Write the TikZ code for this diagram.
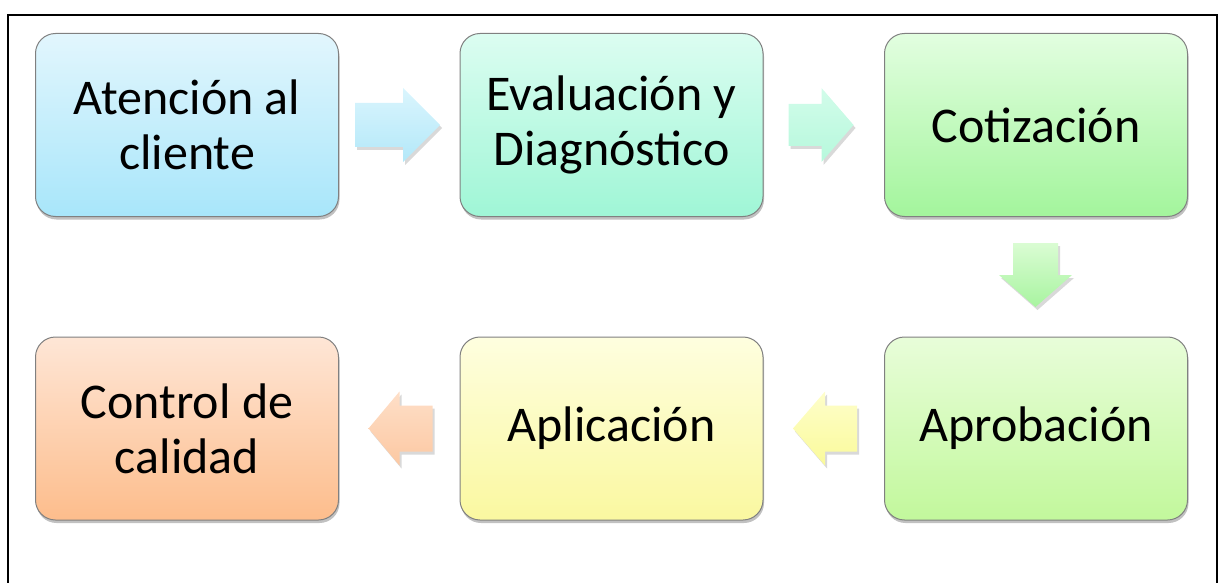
\documentclass[tikz,border=0pt]{standalone}
\usepackage{fontspec}
\setmainfont{Carlito}
\usetikzlibrary{shadows,calc}
\definecolor{bordergray}{HTML}{808080}
\definecolor{bAt}{HTML}{E2F6FD}\definecolor{bAb}{HTML}{A8E6FA}
\definecolor{bBt}{HTML}{DCFDF1}\definecolor{bBb}{HTML}{9FF6D6}
\definecolor{bCt}{HTML}{E2FEE0}\definecolor{bCb}{HTML}{A3F59C}
\definecolor{bDt}{HTML}{E8FDD9}\definecolor{bDb}{HTML}{C2F89C}
\definecolor{bEt}{HTML}{FEFEDF}\definecolor{bEb}{HTML}{FAF8A0}
\definecolor{bFt}{HTML}{FEE6D6}\definecolor{bFb}{HTML}{FDBD8C}
\definecolor{aAt}{HTML}{DAF5FD}\definecolor{aAb}{HTML}{B3E8F9}
\definecolor{aBt}{HTML}{D2FCEA}\definecolor{aBb}{HTML}{B6F8DC}
\definecolor{aCt}{HTML}{DAFCD3}\definecolor{aCb}{HTML}{A8F4A0}
\definecolor{aDt}{HTML}{FEFECB}\definecolor{aDb}{HTML}{FAFA9A}
\definecolor{aEt}{HTML}{FEDFC8}\definecolor{aEb}{HTML}{FCC8A2}
\tikzset{
  x=1pt, y=-1pt,
  stepbox/.style={draw=bordergray, line width=1pt, rounded corners=20pt,
    minimum width=303pt, minimum height=183pt, align=center,
    font=\fontsize{50}{55}\selectfont, text=black,
    drop shadow={shadow xshift=1pt, shadow yshift=-3pt, opacity=0.35, fill=black!70}},
  blockarrow/.style={draw=none,
    drop shadow={shadow xshift=2pt, shadow yshift=-3pt, opacity=0.25, fill=black!60}},
}
\begin{document}
\begin{tikzpicture}
\useasboundingbox (0,0) rectangle (1224,583);
\draw[line width=2pt, black] (8,600) -- (8,15) -- (1217,15) -- (1217,600);

\node[stepbox, top color=bAt, bottom color=bAb] (b1) at (187,125) {Atención al\\cliente};
\node[stepbox, top color=bBt, bottom color=bBb] (b2) at (611.5,125) {Evaluación y\\Diagnóstico};
\node[stepbox, top color=bCt, bottom color=bCb] (b3) at (1036,125) {Cotización};
\node[stepbox, top color=bDt, bottom color=bDb] (b4) at (1036,428.5) {Aprobación};
\node[stepbox, top color=bEt, bottom color=bEb] (b5) at (611.5,428.5) {Aplicación};
\node[stepbox, top color=bFt, bottom color=bFb] (b6) at (187,428.5) {Control de\\calidad};

% right arrow b1 -> b2
\path[blockarrow, top color=aAt, bottom color=aAb]
  ($(b1.east)+(16,-22)$) -- ++(48,0) -- ++(0,-15) -- ++(37,37) -- ++(-37,37) -- ++(0,-15) -- ++(-48,0) -- cycle;
% right arrow b2 -> b3
\path[blockarrow, top color=aBt, bottom color=aBb]
  ($(b2.east)+(25,-21)$) -- ++(33,0) -- ++(0,-16) -- ++(32,37) -- ++(-32,37) -- ++(0,-16) -- ++(-33,0) -- cycle;
% down arrow b3 -> b4
\path[blockarrow, top color=aCt, bottom color=aCb]
  ($(b3.south)+(-23,26)$) -- ++(45,0) -- ++(0,32) -- ++(14,0) -- ++(-36.5,32) -- ++(-36.5,-32) -- ++(14,0) -- cycle;
% left arrow b4 -> b5
\path[blockarrow, top color=aDt, bottom color=aDb]
  ($(b4.west)+(-27,-23)$) -- ++(0,46) -- ++(-32,0) -- ++(0,14) -- ++(-32,-37) -- ++(32,-37) -- ++(0,14) -- cycle;
% left arrow b5 -> b6
\path[blockarrow, top color=aEt, bottom color=aEb]
  ($(b5.west)+(-27,-23)$) -- ++(0,46) -- ++(-33,0) -- ++(0,14) -- ++(-31,-37) -- ++(31,-37) -- ++(0,14) -- cycle;
\end{tikzpicture}
\end{document}
